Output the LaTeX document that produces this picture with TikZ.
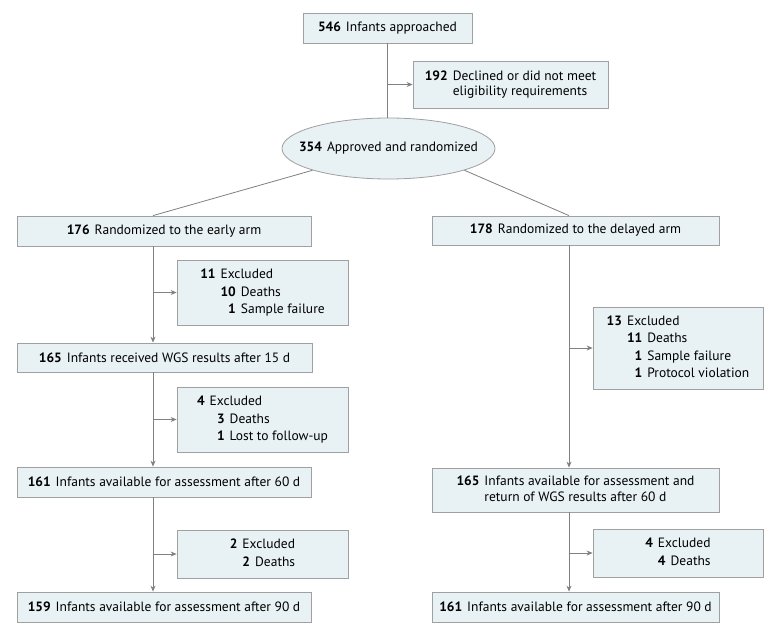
\documentclass[tikz,border=0pt]{standalone}
\usepackage{fontspec}
\setmainfont{PT Sans}
\usetikzlibrary{arrows.meta,shapes.geometric}
\definecolor{boxfill}{HTML}{E8F1F4}
\definecolor{boxline}{HTML}{A0A0A0}
\definecolor{connc}{HTML}{808080}
\newcommand{\nb}[1]{\textbf{#1}}
\begin{document}
\begin{tikzpicture}[x=1pt,y=-1pt,
  box/.style={draw=boxline,fill=boxfill,line width=0.8pt,inner sep=0pt,align=center,font=\fontsize{13.5}{17.5}\selectfont},
  txt/.style={inner sep=0pt,align=center,font=\fontsize{13.5}{17.5}\selectfont},
  conn/.style={draw=connc,line width=0.8pt},
  arr/.style={conn,-{Stealth[length=6pt,width=5pt]}}]
\useasboundingbox (0,0) rectangle (780,634);
\fill[white] (0,0) rectangle (780,634);

\node[box,minimum width=169pt,minimum height=30pt] (a546) at (387.5,28) {\nb{546}\hspace{5pt}Infants approached};
\node[box,minimum width=195pt,minimum height=47pt] (a192) at (510.5,84.5) {\begin{tabular}{@{}r@{\hspace{5pt}}l@{}}\nb{192} & Declined or did not meet\\[-2pt] & eligibility requirements\end{tabular}};
\node[box,ellipse,minimum width=213pt,minimum height=61pt] (ell) at (388.5,148.5) {};
\node[txt] (ellt) at (ell.center) {\nb{354}\hspace{5pt}Approved and randomized};

\node[box,minimum width=294pt,minimum height=30pt] (n176) at (164,231) {\nb{176}\hspace{5pt}Randomized to the early arm};
\node[box,minimum width=287pt,minimum height=29pt] (n178) at (575.5,230.5) {\nb{178}\hspace{5pt}Randomized to the delayed arm};

\node[box,minimum width=171pt,minimum height=65pt] (ex11) at (262.5,292.5) {\begin{tabular}{@{}r@{\hspace{5pt}}r@{\hspace{5pt}}l@{}}\nb{11} & \multicolumn{2}{@{}l@{}}{Excluded}\\ & \nb{10} & Deaths\\ & \nb{1} & Sample failure\end{tabular}};
\node[box,minimum width=295pt,minimum height=29pt] (n165a) at (164.5,357.5) {\nb{165}\hspace{5pt}Infants received WGS results after 15 d};
\node[box,minimum width=171pt,minimum height=65pt] (ex4a) at (262.5,419.5) {\begin{tabular}{@{}r@{\hspace{5pt}}r@{\hspace{5pt}}l@{}}\nb{4} & \multicolumn{2}{@{}l@{}}{Excluded}\\ & \phantom{0}\nb{3} & Deaths\\ & \phantom{0}\nb{1} & Lost to follow-up\end{tabular}};
\node[box,minimum width=294pt,minimum height=30pt] (n161a) at (164,482) {\nb{161}\hspace{5pt}Infants available for assessment after 60 d};
\node[box,minimum width=171pt,minimum height=48pt] (ex2a) at (262.5,554) {\begin{tabular}{@{}r@{\hspace{5pt}}r@{\hspace{5pt}}l@{}}\nb{2} & \multicolumn{2}{@{}l@{}}{Excluded}\\ & \nb{2} & Deaths\end{tabular}};
\node[box,minimum width=294pt,minimum height=30pt] (n159) at (164,607) {\nb{159}\hspace{5pt}Infants available for assessment after 90 d};

\node[box,minimum width=170pt,minimum height=82pt] (ex13) at (678,348) {\begin{tabular}{@{}r@{\hspace{5pt}}r@{\hspace{5pt}}l@{}}\nb{13} & \multicolumn{2}{@{}l@{}}{Excluded}\\ & \nb{11} & Deaths\\ & \nb{1} & Sample failure\\ & \nb{1} & Protocol violation\end{tabular}};
\node[box,minimum width=287pt,minimum height=44pt] (n165b) at (575.5,490) {\begin{tabular}{@{}r@{\hspace{5pt}}l@{}}\nb{165} & Infants available for assessment and\\[-2pt] & return of WGS results after 60 d\end{tabular}};
\node[box,minimum width=170pt,minimum height=48pt] (ex4b) at (678,553) {\begin{tabular}{@{}r@{\hspace{5pt}}r@{\hspace{5pt}}l@{}}\nb{4} & \multicolumn{2}{@{}l@{}}{Excluded}\\ & \nb{4} & Deaths\end{tabular}};
\node[box,minimum width=287pt,minimum height=30pt] (n161b) at (575.5,607) {\nb{161}\hspace{5pt}Infants available for assessment after 90 d};

\coordinate (T) at (387,0);
\coordinate (L) at (153,0);
\coordinate (R) at (569,0);

\draw[conn] (a546.south -| T) -- (ell.north -| T);
\draw[arr] (T |- a192.west) -- (a192.west);
\draw[conn] (ell.196) -- (n176.north -| L);
\draw[conn] (ell.344) -- (n178.north -| R);

\draw[arr] (n176.south -| L) -- (n165a.north -| L);
\draw[arr] (L |- ex11.west) -- (ex11.west);
\draw[arr] (n165a.south -| L) -- (n161a.north -| L);
\draw[arr] (L |- ex4a.west) -- (ex4a.west);
\draw[arr] (n161a.south -| L) -- (n159.north -| L);
\draw[arr] (L |- ex2a.west) -- (ex2a.west);

\draw[arr] (n178.south -| R) -- (n165b.north -| R);
\draw[arr] (R |- ex13.west) -- (ex13.west);
\draw[arr] (n165b.south -| R) -- (n161b.north -| R);
\draw[arr] (R |- ex4b.west) -- (ex4b.west);
\end{tikzpicture}
\end{document}
